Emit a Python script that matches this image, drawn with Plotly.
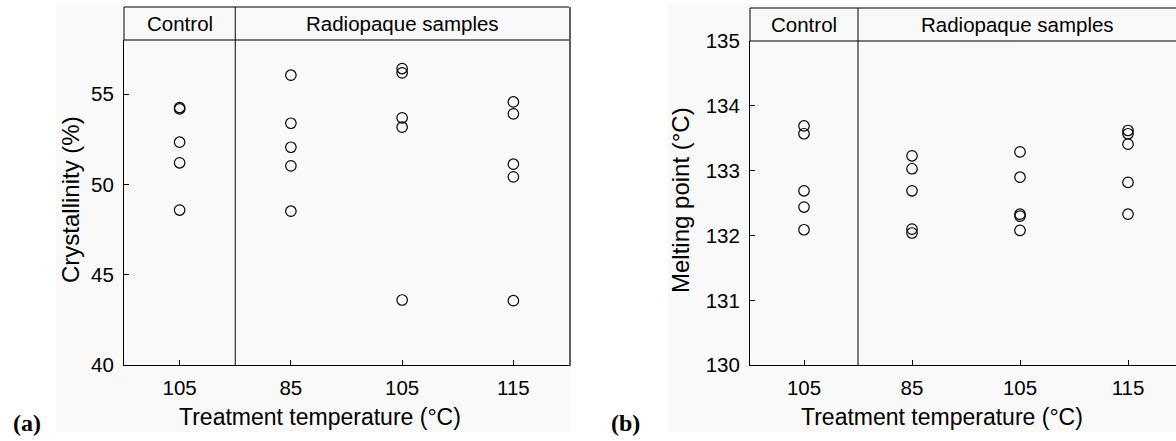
import plotly.graph_objects as go

W, H = 1176, 441


def px(x):
    return x / W


def py(y):
    return 1 - y / H


# ---------------- data ----------------
group_positions = [1, 2, 3, 4]
tick_labels = ["105", "85", "105", "115"]
strip_labels = ["Control", "Radiopaque samples"]

# (a) Crystallinity (%)
cryst_control_105 = [54.26, 54.18, 52.34, 51.20, 48.58]
cryst_radio_85 = [56.05, 53.39, 52.06, 51.03, 48.52]
cryst_radio_105 = [56.42, 56.18, 53.69, 53.17, 43.60]
cryst_radio_115 = [54.57, 53.91, 51.12, 50.42, 43.56]

# (b) Melting point (°C)
melt_control_105 = [133.69, 133.57, 132.69, 132.44, 132.09]
melt_radio_85 = [133.23, 133.03, 132.69, 132.10, 132.04]
melt_radio_105 = [133.29, 132.90, 132.33, 132.30, 132.08]
melt_radio_115 = [133.62, 133.57, 133.41, 132.82, 132.33]

cryst_groups = [cryst_control_105, cryst_radio_85, cryst_radio_105, cryst_radio_115]
melt_groups = [melt_control_105, melt_radio_85, melt_radio_105, melt_radio_115]

cryst_ticks = [40, 45, 50, 55]
melt_ticks = [130, 131, 132, 133, 134, 135]

FONT = "Liberation Sans, Arial, sans-serif"
BG = "#f9f9f9"

fig = go.Figure()

marker = dict(symbol="circle-open", size=10.5, color="black", line=dict(width=1.2, color="black"))

for pos, vals in zip(group_positions, cryst_groups):
    fig.add_trace(go.Scatter(x=[pos] * len(vals), y=vals, mode="markers", marker=marker,
                             xaxis="x", yaxis="y", showlegend=False, hoverinfo="y"))
for pos, vals in zip(group_positions, melt_groups):
    fig.add_trace(go.Scatter(x=[pos] * len(vals), y=vals, mode="markers", marker=marker,
                             xaxis="x2", yaxis="y2", showlegend=False, hoverinfo="y"))

axis_common = dict(showgrid=False, zeroline=False, showline=True, linecolor="black", linewidth=1,
                   ticks="inside", ticklen=5, tickwidth=1, tickcolor="black", automargin=False,
                   tickfont=dict(family=FONT, size=20.5, color="black"), mirror=False)

# panel geometry (pixels)
L1, R1, T1, S1, B1 = 124, 569, 7, 40, 365
L2, R2, T2, S2, B2 = 750, 1176, 8, 41, 365.3

fig.update_layout(
    template="none",
    width=W, height=H,
    autosize=False,
    margin=dict(l=0, r=0, t=0, b=0, pad=0),
    paper_bgcolor="white",
    plot_bgcolor="rgba(0,0,0,0)",
    font=dict(family=FONT, color="black"),
    xaxis=dict(domain=[px(L1), px(R1)], range=[0.5, 4.5], tickvals=group_positions,
               ticktext=tick_labels, anchor="y", ticklabelstandoff=4, **axis_common),
    yaxis=dict(domain=[py(B1), py(S1)], range=[40, 58], tickvals=cryst_ticks, anchor="x",
               ticklabelstandoff=5, **axis_common),
    xaxis2=dict(domain=[px(L2), 1.0], range=[0.5, 0.5 + (R2 - L2) / 108.0], tickvals=group_positions,
                ticktext=tick_labels, anchor="y2", ticklabelstandoff=4, **axis_common),
    yaxis2=dict(domain=[py(B2), py(S2)], range=[130, 135], tickvals=melt_ticks, anchor="x2",
                ticklabelstandoff=5, **axis_common),
)

shapes = []
# light background regions
shapes.append(dict(type="rect", xref="paper", yref="paper", x0=px(56), x1=px(571), y0=py(432), y1=py(4),
                   fillcolor=BG, line=dict(width=0), layer="below"))
shapes.append(dict(type="rect", xref="paper", yref="paper", x0=px(668), x1=1.0, y0=py(432), y1=py(4),
                   fillcolor=BG, line=dict(width=0), layer="below"))

for (L, R, T, S, B, xr) in [(L1, R1, T1, S1, B1, "x"), (L2, R2, T2, S2, B2, "x2")]:
    # strip top border
    shapes.append(dict(type="line", xref="paper", yref="paper", x0=px(L), x1=px(R), y0=py(T), y1=py(T),
                       line=dict(color="black", width=1)))
    # strip bottom border
    shapes.append(dict(type="line", xref="paper", yref="paper", x0=px(L), x1=px(R), y0=py(S), y1=py(S),
                       line=dict(color="#7a7a7a", width=2)))
    # left axis extension through strip
    shapes.append(dict(type="line", xref="paper", yref="paper", x0=px(L), x1=px(L), y0=py(S), y1=py(T),
                       line=dict(color="black", width=1)))
    # divider between control and radiopaque groups
    shapes.append(dict(type="line", xref=xr, yref="paper", x0=1.5, x1=1.5, y0=py(B), y1=py(T),
                       line=dict(color="black", width=1)))

# right border of panel (a)
shapes.append(dict(type="line", xref="paper", yref="paper", x0=px(570), x1=px(570), y0=py(366), y1=py(T1),
                   line=dict(color="#5f5f5f", width=2)))

annotations = []


def ann(text, x, y, size, angle=0, family=FONT, xanchor="center"):
    annotations.append(dict(text=text, x=px(x), y=py(y), xref="paper", yref="paper", showarrow=False,
                            xanchor=xanchor, yanchor="middle", textangle=angle,
                            font=dict(family=family, size=size, color="black")))


# strip labels
ann(strip_labels[0], (L1 + 235) / 2, 24, 20.5)
ann(strip_labels[1], (235 + R1) / 2, 24, 20.5)
ann(strip_labels[0], (L2 + 858.3) / 2, 25, 20.5)
ann(strip_labels[1], (858.3 + R2) / 2, 25, 20.5)

# axis titles
ann("Treatment temperature (°C)", 320, 417, 23)
ann("Treatment temperature (°C)", 942, 417, 23)
ann("Crystallinity (%)", 70, 200, 24, angle=-90)
ann("Melting point (°C)", 680, 200, 24, angle=-90)

# panel tags
ann("<b>(a)</b>", 27, 423, 24, family="Liberation Serif, DejaVu Serif, serif")
ann("<b>(b)</b>", 625, 423, 24, family="Liberation Serif, DejaVu Serif, serif")

fig.update_layout(shapes=shapes, annotations=annotations)

fig.write_html("out.html", config={"displayModeBar": False},
               post_script="document.body.style.margin='0px';document.body.style.overflow='hidden';")
